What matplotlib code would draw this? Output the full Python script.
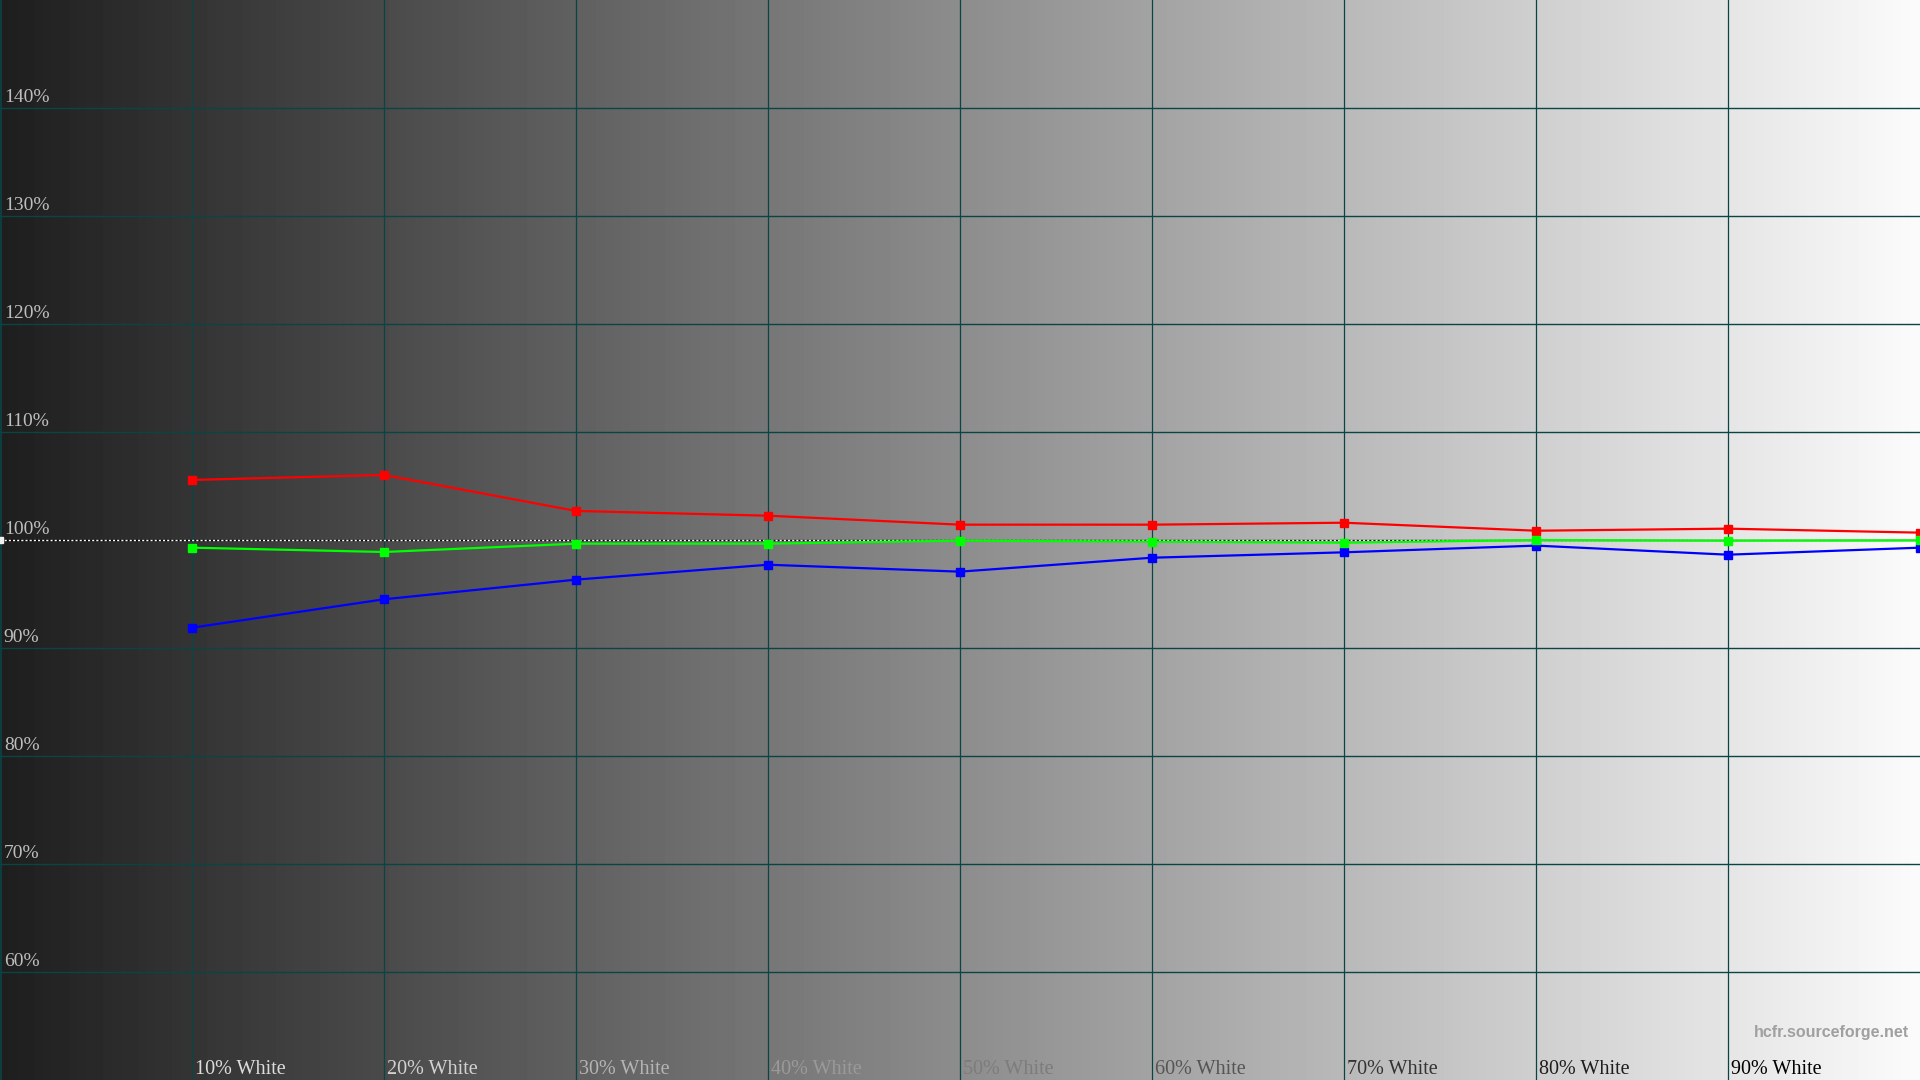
import numpy as np
from matplotlib import pyplot as plt

# levels measured (% white) and relative RGB levels (%)
steps = [10, 20, 30, 40, 50, 60, 70, 80, 90, 100]
red = [105.56, 106.02, 102.69, 102.25, 101.42, 101.42, 101.6, 100.86, 101.05, 100.68]
green = [99.29, 98.89, 99.66, 99.66, 99.94, 99.85, 99.75, 100.0, 99.94, 99.97]
blue = [91.88, 94.51, 96.33, 97.71, 97.07, 98.36, 98.86, 99.48, 98.64, 99.29]

y_ticks = [60, 70, 80, 90, 100, 110, 120, 130, 140]
y_labels = ['60%', '70%', '80%', '90%', '100%', '110%', '120%', '130%', '140%']
x_ticks = [10, 20, 30, 40, 50, 60, 70, 80, 90]
x_labels = ['10% White', '20% White', '30% White', '40% White', '50% White',
            '60% White', '70% White', '80% White', '90% White']
x_label_colors = ['#dcdcdc', '#d2d2d2', '#b4b4b4', '#9a9a9a', '#7c7c7c',
                  '#555555', '#333333', '#1e1e1e', '#000000']

grid_col = '#0a4444'

fig = plt.figure(figsize=(19.2, 10.8), dpi=100)
ax = fig.add_axes([0, 0, 1, 1])
ax.set_xlim(0, 100)
ax.set_ylim(50, 150)
ax.axis('off')

# grey ramp background
ramp = np.linspace(30, 251, 1920).reshape(1, -1) / 255.0
ax.imshow(ramp, cmap='gray', vmin=0, vmax=1, aspect='auto',
          extent=[0, 100, 50, 150], zorder=0)

for x in x_ticks:
    ax.axvline(x, color=grid_col, lw=0.9, zorder=1)
ax.axvline(0.05, color=grid_col, lw=1.2, zorder=1)
for y in y_ticks:
    if y != 100:
        ax.axhline(y, color=grid_col, lw=1.0, zorder=1)

# reference 100% line
ax.axhline(100, color='black', lw=1.0, zorder=2)
ax.axhline(100, color='white', lw=1.0, ls=(0, (1.5, 1.5)), zorder=2)
ax.plot([0], [100], 's', color='#f0f0f0', ms=4.5, zorder=3)

ax.plot(steps, red, '-s', color='#ff0000', lw=1.6, ms=5.5, zorder=4)
ax.plot(steps, green, '-s', color='#00ff00', lw=1.6, ms=5.5, zorder=5)
ax.plot(steps, blue, '-s', color='#0000ff', lw=1.6, ms=5.5, zorder=4)

for y, lab in zip(y_ticks, y_labels):
    ax.text(0.2, y + 0.55, lab, color='#bebebe', fontsize=14,
            family='Liberation Serif', ha='left', va='baseline', zorder=6)

for x, lab, c in zip(x_ticks, x_labels, x_label_colors):
    ax.text(x + 0.15, 50.55, lab, color=c, fontsize=14.5,
            family='Liberation Serif', ha='left', va='baseline', zorder=6)

ax.text(99.45, 53.95, 'hcfr.sourceforge.net', color='#a0a0a0', fontsize=11.5,
        family='Liberation Sans', fontweight='bold', ha='right', va='baseline', zorder=6)

fig.savefig('out.png', dpi=100)
